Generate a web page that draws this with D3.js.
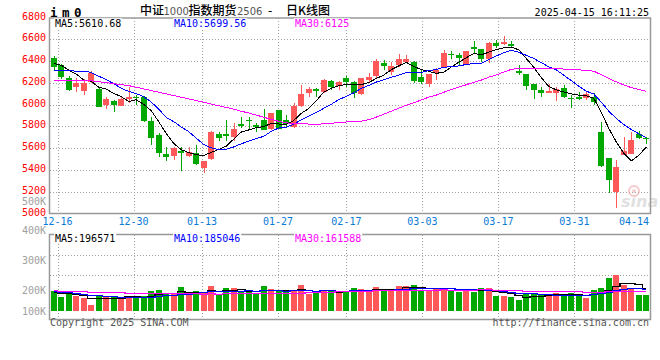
<!DOCTYPE html>
<html><head><meta charset="utf-8">
<script src="https://cdn.jsdelivr.net/npm/d3@7"></script>
<style>html,body{margin:0;padding:0;background:#fff;}svg{display:block;}</style>
</head><body>
<svg id="chart" width="660" height="360"></svg>
<script>
// ---------------- data ----------------
const dates = ["12-13","12-16","12-17","12-18","12-19","12-20","12-23","12-24","12-25","12-26","12-27","12-30","12-31",
"01-02","01-03","01-06","01-07","01-08","01-09","01-10","01-13","01-14","01-15","01-16","01-17","01-20","01-21","01-22","01-23","01-24","01-27",
"02-05","02-06","02-07","02-10","02-11","02-12","02-13","02-14","02-17","02-18","02-19","02-20","02-21","02-24","02-25","02-26","02-27","02-28",
"03-03","03-04","03-05","03-06","03-07","03-10","03-11","03-12","03-13","03-14","03-17","03-18","03-19","03-20","03-21","03-24","03-25","03-26","03-27","03-28","03-31",
"04-01","04-02","04-03","04-07","04-08","04-09","04-10","04-11","04-14","04-15"];
const opens = [6425,6367,6248,6165,6129,6211,6144,5997,6037,5991,6049,6067,6073,5850,5721,5543,5531,5574,5531,5559,
5421,5504,5730,5727,5700,5822,5860,5813,5859,5773,5951,5859,5798,5988,6110,6144,6116,6217,6175,6242,
6208,6098,6227,6266,6380,6297,6364,6395,6395,6251,6188,6288,6349,6462,6456,6364,6533,6511,6416,6570,
6560,6557,6312,6279,6187,6135,6110,6110,6150,6058,6073,6064,6073,5752,5507,5201,5537,5547,5731,5691];
const highs = [6448,6372,6263,6248,6233,6306,6159,6067,6040,6080,6159,6089,6076,5883,5736,5608,5614,5614,5614,5629,
5485,5755,5752,5859,5828,5883,5883,5828,5960,5926,5955,5905,6012,6181,6165,6150,6233,6227,6217,6263,
6217,6248,6294,6416,6410,6395,6462,6456,6398,6325,6282,6334,6502,6496,6478,6493,6585,6514,6573,6594,
6631,6585,6364,6282,6190,6165,6190,6165,6181,6089,6113,6126,6104,5844,5510,5492,5706,5752,5761,5706];
const lows = [6322,6236,6125,6119,6089,6196,5981,5960,5936,5991,6018,5997,5844,5629,5522,5485,5491,5393,5522,5449,
5375,5490,5666,5666,5666,5782,5767,5752,5767,5767,5773,5789,5782,5982,6073,6073,6104,6135,6135,6165,
6064,6089,6211,6242,6318,6273,6343,6380,6196,6190,6165,6227,6334,6416,6364,6364,6478,6395,6380,6517,
6548,6517,6272,6135,6052,6073,6104,6034,6058,5972,6043,6043,5997,5430,5191,5047,5537,5547,5684,5636];
const closes = [6350,6257,6135,6196,6202,6288,5981,6052,5997,6052,6067,6058,5847,5697,5553,5519,5605,5559,5565,5452,
5482,5752,5696,5714,5776,5804,5850,5798,5767,5920,5778,5822,5988,6098,6141,6129,6227,6165,6208,6205,
6104,6242,6257,6401,6358,6355,6416,6416,6220,6205,6282,6318,6472,6453,6426,6493,6508,6416,6570,6542,
6579,6539,6294,6174,6135,6110,6126,6141,6073,6049,6052,6095,6028,5433,5308,5430,5574,5675,5691,5681];
const volumes = [173000,122000,145000,128000,108000,51000,128000,130000,128000,108000,130000,122000,128000,170000,179000,150000,145000,207000,145000,170000,
159000,213000,142000,198000,198000,164000,164000,145000,213000,187000,170000,159000,179000,221000,145000,150000,179000,179000,170000,170000,
198000,187000,164000,207000,179000,187000,213000,213000,221000,179000,170000,187000,198000,179000,164000,170000,164000,198000,198000,130000,
125000,122000,96000,142000,145000,145000,136000,150000,145000,156000,128000,113000,179000,198000,283000,306000,221000,198000,136000,136000];
// closes / volumes before the visible window, estimated so the moving averages start where the picture shows them
const priorCloses = [6270,6150,6210,6210,6300,6250,6320,6270,6320,6340,6500,6300,6160,6010,5980,6070,6020,6030,5910,5940,
6260,6150,6200,6210,6410,6330,6360,6380,6470];
const priorVolumes = [185000,172000,190000,178000,168000,181000,176000,189000,174000,183000,170000,186000,179000,175000,182000,177000,171000,188000,180000,184000,
176000,182000,179000,185000,178000,150000,162000,155000,160000];
const priceTicks = [5000,5200,5400,5600,5800,6000,6200,6400,6600,6800];
const volumeTicks = [500000,400000,300000,200000,100000];
const volumeTickLabels = ["500K","400K","300K","200K","100K"];
const dateTicks = ["12-16","12-30","01-13","01-27","02-17","03-03","03-17","03-31","04-14"];
const maPeriods = [5,10,30];
const priceMALabels = ["MA5:5610.68","MA10:5699.56","MA30:6125"];
const volumeMALabels = ["MA5:196571","MA10:185046","MA30:161588"];
const symbol = "i m 0";
const titleParts = ["中证","1000","指数期货","2506","-","日K线图"];
const timestamp = "2025-04-15 16:11:25";
const copyright = "Copyright 2025 SINA.COM";
const siteUrl = "http://finance.sina.com.cn";

// ---------------- layout ----------------
const L = 50, R = 650;
const pTop = 17.7, pBot = 213.5;
const vTop = 234.5, vBot = 319.5, vBase = 311;
const RED = "#ff5858", GREEN = "#00a800";
const maColors = ["#000000","#0000ff","#ff00ff"];
const mono = "'DejaVu Sans Mono', 'Liberation Mono', monospace";

const svg = d3.select("#chart");
svg.append("rect").attr("width",660).attr("height",360).attr("fill","#fff");

const x = d3.scaleBand().domain(d3.range(dates.length)).range([L, R]).paddingInner(0.2).paddingOuter(0.1);
const bw = x.bandwidth();
const cx = i => Math.round(x(i) + bw / 2) + 0.5;
const gx = d3.scaleLinear().domain([0, dates.length]).range([L, 658]);
const y = d3.scaleLinear().domain([5000, 6800]).range([pBot, pTop]);
const yv = d3.scaleLinear().domain([0, 650000]).range([vBase, vTop]);
const yvLabel = d3.scaleLinear().domain([100000,200000,300000,400000,500000]).range([311,290.7,260,230,201]);
const vGrid = d3.scaleLinear().domain([0, 1]).range([vTop, 316]);

const gridStyle = s => s.attr("stroke","#a0a0a0").attr("stroke-width",1).attr("stroke-dasharray","1,2").attr("shape-rendering","crispEdges");

// horizontal grid (price)
svg.append("g").selectAll("line").data(priceTicks.filter(t => t > 5000 && t < 6800)).join("line")
  .attr("x1",L).attr("x2",R).attr("y1",d=>Math.round(y(d))+0.5).attr("y2",d=>Math.round(y(d))+0.5).call(gridStyle);
// horizontal grid (volume)
svg.append("g").selectAll("line").data([0.25,0.5]).join("line")
  .attr("x1",L).attr("x2",R).attr("y1",d=>Math.round(vGrid(d))+0.5).attr("y2",d=>Math.round(vGrid(d))+0.5).call(gridStyle);
// vertical grid
const gridDates = dateTicks.slice(0, -1);
svg.append("g").selectAll("line").data(gridDates).join("line")
  .attr("x1",d=>Math.round(gx(dates.indexOf(d)))+0.5).attr("x2",d=>Math.round(gx(dates.indexOf(d)))+0.5)
  .attr("y1",pTop).attr("y2",pBot).call(gridStyle);
svg.append("g").selectAll("line").data(gridDates).join("line")
  .attr("x1",d=>Math.round(gx(dates.indexOf(d)))+0.5).attr("x2",d=>Math.round(gx(dates.indexOf(d)))+0.5)
  .attr("y1",vTop).attr("y2",vBot).call(gridStyle);

// watermark
const wm = svg.append("g").attr("opacity",0.55);
wm.append("text").attr("x",621).attr("y",207).attr("font-family","'DejaVu Sans', sans-serif").attr("font-size",16)
  .attr("font-weight","bold").attr("font-style","italic").attr("fill","#c8c8c8").text("sina");
wm.append("circle").attr("cx",634).attr("cy",191).attr("r",5).attr("fill","none").attr("stroke","#f0a0a0").attr("stroke-width",2);
wm.append("circle").attr("cx",634).attr("cy",191).attr("r",1.8).attr("fill","#f0a0a0");

// frames
svg.append("rect").attr("x",L-0.5).attr("y",18).attr("width",R-L+1).attr("height",pBot-18)
  .attr("fill","none").attr("stroke","#999").attr("stroke-width",1.5);
svg.append("rect").attr("x",L-0.5).attr("y",vTop).attr("width",R-L+1).attr("height",vBot-vTop)
  .attr("fill","none").attr("stroke","#999").attr("stroke-width",1.5);

// candles
const idx = d3.range(dates.length);
const up = i => closes[i] >= opens[i];
const cg = svg.append("g").attr("shape-rendering","crispEdges");
cg.selectAll("line").data(idx).join("line")
  .attr("x1",cx).attr("x2",cx).attr("y1",i=>y(highs[i])).attr("y2",i=>y(lows[i]))
  .attr("stroke",i=>up(i)?RED:GREEN).attr("stroke-width",1);
cg.selectAll("rect").data(idx).join("rect")
  .attr("x",i=>Math.round(x(i))).attr("width",Math.round(bw))
  .attr("y",i=>y(Math.max(opens[i],closes[i])))
  .attr("height",i=>Math.max(1, Math.abs(y(opens[i]) - y(closes[i]))))
  .attr("fill",i=>up(i)?RED:GREEN);

// volume bars
svg.append("g").attr("shape-rendering","crispEdges").selectAll("rect").data(idx).join("rect")
  .attr("x",i=>Math.round(x(i))).attr("width",Math.round(bw))
  .attr("y",i=>yv(volumes[i])).attr("height",i=>yv(0)-yv(volumes[i]))
  .attr("fill",i=>up(i)?RED:GREEN);

// moving averages
function movingAverage(series, prior, n) {
  const all = prior.concat(series);
  return series.map((_, i) => d3.mean(all.slice(prior.length + i - n + 1, prior.length + i + 1)));
}
maPeriods.forEach((n, k) => {
  const m = movingAverage(closes, priorCloses, n);
  svg.append("path").datum(m)
    .attr("d", d3.line().x((d,i)=>x(i)+bw/2).y(d=>y(d)))
    .attr("fill","none").attr("stroke",maColors[k]).attr("stroke-width",1).attr("shape-rendering","crispEdges");
});
maPeriods.forEach((n, k) => {
  const m = movingAverage(volumes, priorVolumes, n);
  svg.append("path").datum(m)
    .attr("d", d3.line().curve(d3.curveStep).x((d,i)=>x(i)+bw/2).y(d=>Math.round(yv(d))+0.5))
    .attr("fill","none").attr("stroke",maColors[k]).attr("stroke-width",1.4).attr("shape-rendering","crispEdges");
});

// MA header texts with white backing
const headerX = [55, 174, 295];
function header(labels, baseline) {
  labels.forEach((t, k) => {
    const txt = svg.append("text").attr("x",headerX[k]).attr("y",baseline)
      .attr("font-family",mono).attr("font-size",10).attr("fill",maColors[k]).text(t);
    const b = txt.node().getBBox();
    svg.insert("rect", () => txt.node()).attr("x",b.x-1).attr("y",b.y).attr("width",b.width+2).attr("height",b.height).attr("fill","#fff");
  });
}
header(priceMALabels, 27.3);
header(volumeMALabels, 241.7);

// price axis labels
svg.append("g").selectAll("text").data(priceTicks).join("text")
  .attr("x",46).attr("y",d=>y(d)+2).attr("text-anchor","end")
  .attr("font-family",mono).attr("font-size",10).attr("fill","#ff0000").text(d=>d);
// volume axis labels
svg.append("g").selectAll("text").data(volumeTicks).join("text")
  .attr("x",46).attr("y",d=>yvLabel(d)+3.5).attr("text-anchor","end")
  .attr("font-family",mono).attr("font-size",10).attr("fill","#a0a0a0").text((d,i)=>volumeTickLabels[i]);
// date labels
svg.append("g").selectAll("text").data(dateTicks).join("text")
  .attr("x",(d,i)=> i === dateTicks.length-1 ? R-1 : gx(dates.indexOf(d)))
  .attr("text-anchor",(d,i)=> i === dateTicks.length-1 ? "end" : "middle")
  .attr("y",225).attr("font-family",mono).attr("font-size",10).attr("fill","#0a7ad6").text(d=>d);

// top header
svg.append("text").attr("x",50).attr("y",16.5).attr("font-family",mono).attr("font-size",12.5)
  .attr("letter-spacing","-1.5").attr("font-weight","bold").attr("fill","#000").text(symbol);
const cjk = "'Noto Sans CJK SC', sans-serif";
const title = svg.append("text").attr("y",14.5);
const partX = [140, 163.5, 188.5, 237, 268, 286];
titleParts.forEach((p, k) => {
  const isNum = /^[0-9]+$/.test(p);
  title.append("tspan").attr("x",partX[k])
    .attr("font-family", isNum ? "'DejaVu Sans', sans-serif" : cjk)
    .attr("font-size", isNum ? 10 : 12)
    .attr("font-weight", isNum ? "normal" : 500)
    .attr("fill", isNum ? "#555" : "#000").text(p);
});
svg.append("text").attr("x",649).attr("y",16).attr("text-anchor","end").attr("font-family",mono)
  .attr("font-size",10).attr("fill","#000").text(timestamp);

// footer
svg.append("text").attr("x",50).attr("y",326).attr("font-family",mono).attr("font-size",10).attr("fill","#555").text(copyright);
svg.append("text").attr("x",649).attr("y",326).attr("text-anchor","end").attr("font-family",mono).attr("font-size",10).attr("fill","#555").text(siteUrl);
</script>
</body></html>
